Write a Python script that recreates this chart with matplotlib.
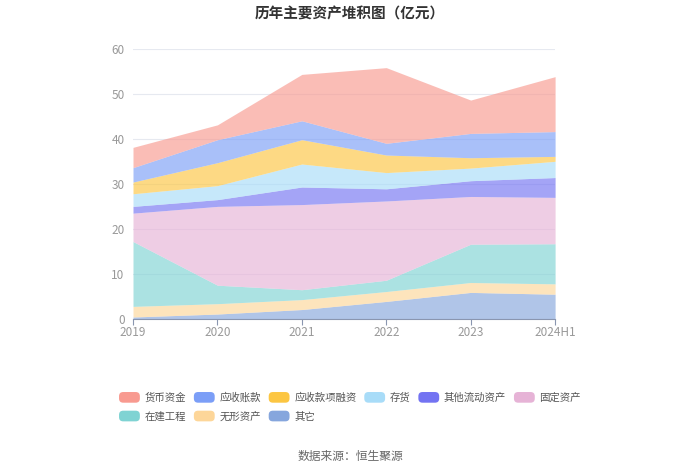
import numpy as np
import matplotlib.pyplot as plt
from matplotlib.patches import FancyBboxPatch
from matplotlib.legend_handler import HandlerPatch

plt.rcParams['font.family'] = ['Noto Sans CJK SC', 'DejaVu Sans']

years = ['2019', '2020', '2021', '2022', '2023', '2024H1']

# bottom -> top, 亿元
qita = [0.44, 1.1, 2.1, 3.9, 5.9, 5.5]
wuxing = [2.36, 2.3, 2.2, 2.2, 2.2, 2.3]
zaijian = [14.4, 4.1, 2.2, 2.5, 8.5, 8.9]
guding = [6.3, 17.5, 18.9, 17.6, 10.6, 10.3]
qitaliudong = [1.5, 1.5, 3.9, 2.7, 3.5, 4.4]
cunhuo = [2.8, 3.1, 5.1, 3.6, 2.8, 3.6]
yingshourongzi = [2.6, 5.1, 5.4, 3.9, 2.3, 1.1]
yingshouzhang = [3.2, 5.1, 4.2, 2.6, 5.4, 5.5]
huobi = [4.5, 3.3, 10.3, 16.8, 7.4, 12.2]

series = [
    ('其它', qita, '#86a6dd'),
    ('无形资产', wuxing, '#fdd699'),
    ('在建工程', zaijian, '#7fd3d3'),
    ('固定资产', guding, '#e6b3d6'),
    ('其他流动资产', qitaliudong, '#7373f2'),
    ('存货', cunhuo, '#a8dcf8'),
    ('应收款项融资', yingshourongzi, '#fcc642'),
    ('应收账款', yingshouzhang, '#7b9ef7'),
    ('货币资金', huobi, '#f89a90'),
]


class RoundHandler(HandlerPatch):
    def create_artists(self, legend, orig_handle, xdescent, ydescent,
                       width, height, fontsize, trans):
        p = FancyBboxPatch((-xdescent, -ydescent), width, height,
                           boxstyle='round,pad=0,rounding_size=3',
                           facecolor=orig_handle.get_facecolor(), edgecolor='none',
                           transform=trans)
        return [p]


fig = plt.figure(figsize=(7, 4.73), dpi=100)
ax = fig.add_axes([0.19, 0.3256, 0.603, 0.5714])

x = np.arange(len(years))
base = np.zeros(len(years))
handles = {}
for name, vals, col in series:
    top = base + np.array(vals)
    ax.fill_between(x, base, top, color=col, alpha=0.65, linewidth=0)
    handles[name] = plt.Rectangle((0, 0), 1, 1, facecolor=col)
    base = top

ax.set_xlim(0, len(years) - 1)
ax.set_ylim(0, 60)
ax.set_yticks(range(0, 61, 10))
ax.set_xticks(x)
ax.set_xticklabels(years)
ax.yaxis.grid(True, color='#e6e9f0', linewidth=0.8)
ax.set_axisbelow(True)
for s in ['left', 'right', 'top']:
    ax.spines[s].set_visible(False)
ax.spines['bottom'].set_color('#8a96b0')
ax.tick_params(axis='y', length=0, labelcolor='#999999', labelsize=8.5, pad=6)
ax.tick_params(axis='x', length=4, color='#8a96b0', labelcolor='#999999', labelsize=8.5, pad=1)

fig.text(0.5, 0.972, '历年主要资产堆积图（亿元）', ha='center', va='center',
         fontsize=10.5, fontweight='bold', color='#333333')

# reorder so ncol=6 fills row by row
leg_names = ['货币资金', '在建工程', '应收账款', '无形资产', '应收款项融资', '其它',
             '存货', '其他流动资产', '固定资产']
fig.legend([handles[n] for n in leg_names], leg_names, loc='center',
           bbox_to_anchor=(0.5, 0.14), ncol=6, frameon=False, fontsize=7.5,
           handlelength=2.0, handleheight=1.2, columnspacing=0.75, handletextpad=0.45,
           labelcolor='#555555', labelspacing=0.75,
           handler_map={plt.Rectangle: RoundHandler()})

fig.text(0.5, 0.034, '数据来源：恒生聚源', ha='center', va='center',
         fontsize=8.5, color='#666666')

fig.savefig('out.png', dpi=100)
